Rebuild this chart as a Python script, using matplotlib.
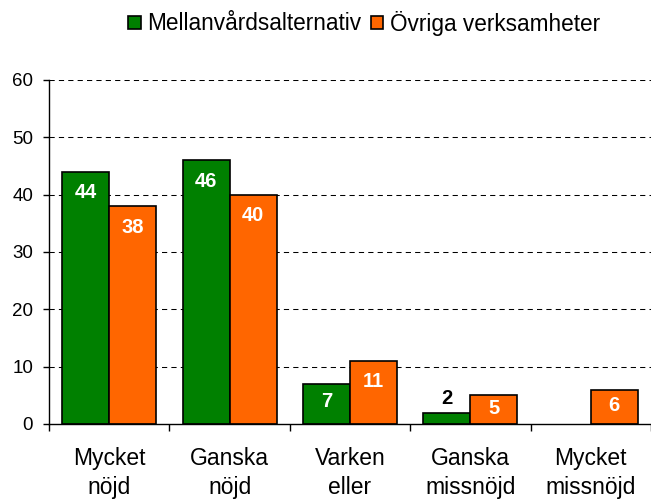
import matplotlib
matplotlib.use("Agg")
import matplotlib.pyplot as plt
import numpy as np

plt.rcParams['font.family'] = ['Liberation Sans', 'DejaVu Sans']

categories = ["Mycket\nnöjd", "Ganska\nnöjd", "Varken\neller", "Ganska\nmissnöjd", "Mycket\nmissnöjd"]
series_names = ["Mellanvårdsalternativ", "Övriga verksamheter"]
mellanvard = [44, 46, 7, 2, 0]
ovriga = [38, 40, 11, 5, 6]
yticks = [0, 10, 20, 30, 40, 50, 60]

green = "#008000"
orange = "#FF6600"

fig = plt.figure(figsize=(6.51, 5.00), dpi=100)
ax = fig.add_axes([49/651, 76/500, 1 - 49/651, 344/500])

x = np.arange(len(categories))
w = 0.39
b1 = ax.bar(x - w/2, mellanvard, w, color=green, edgecolor="black", linewidth=1.2, zorder=3,
            label=series_names[0])
b2 = ax.bar(x + w/2, ovriga, w, color=orange, edgecolor="black", linewidth=1.2, zorder=3,
            label=series_names[1])
for rect, v in zip(list(b1) + list(b2), mellanvard + ovriga):
    if v == 0:
        rect.set_visible(False)

ax.set_xlim(-0.5, len(categories) - 0.5)
ax.set_ylim(0, 60)

# px per data unit
ppu = 344 / 60.0

def label_bars(bars, vals):
    for rect, v in zip(bars, vals):
        if v == 0:
            continue
        cx = rect.get_x() + rect.get_width() / 2
        h_px = v * ppu
        if v < 3:
            ax.annotate(str(v), (cx, v), xytext=(0, 14 / 1.389), textcoords="offset points",
                        ha="center", va="center", fontsize=14.5, fontweight="bold",
                        color="black", zorder=5)
        else:
            off = min(21, 0.45 * h_px)
            ax.annotate(str(v), (cx, v), xytext=(0, -off / 1.389), textcoords="offset points",
                        ha="center", va="center", fontsize=14.5, fontweight="bold",
                        color="white", zorder=5)

label_bars(b1, mellanvard)
label_bars(b2, ovriga)

# grid
ax.set_yticks(yticks)
ax.yaxis.grid(True, linestyle=(0, (5, 4)), color="black", linewidth=0.75, zorder=1)
ax.set_axisbelow(True)
for gl in ax.get_ygridlines():
    gl.set_zorder(1)
ax.get_ygridlines()[0].set_visible(False)

ax.spines["top"].set_visible(False)
ax.spines["right"].set_visible(False)
ax.spines["left"].set_linewidth(1.0)
ax.spines["bottom"].set_linewidth(1.0)
ax.spines["bottom"].set_zorder(4)

ax.tick_params(axis="y", direction="out", length=4.5, width=1.0, pad=7, labelsize=13.5)
ax.set_xticks(x)
ax.set_xticklabels(categories, fontsize=16.5, linespacing=1.35)
ax.tick_params(axis="x", which="major", length=0, pad=16.5)
ax.set_xticks(np.arange(-0.5, len(categories) + 0.5, 1.0), minor=True)
ax.tick_params(axis="x", which="minor", direction="out", length=5, width=1.0)

leg = fig.legend(handles=[b1, b2], labels=series_names, loc="center",
                 bbox_to_anchor=(364/651, 1 - 23/500), ncol=2, frameon=False,
                 fontsize=16.3, handlelength=0.55, handleheight=0.5, handletextpad=0.3,
                 columnspacing=0.4, borderaxespad=0)

fig.savefig("out.png", dpi=100)
